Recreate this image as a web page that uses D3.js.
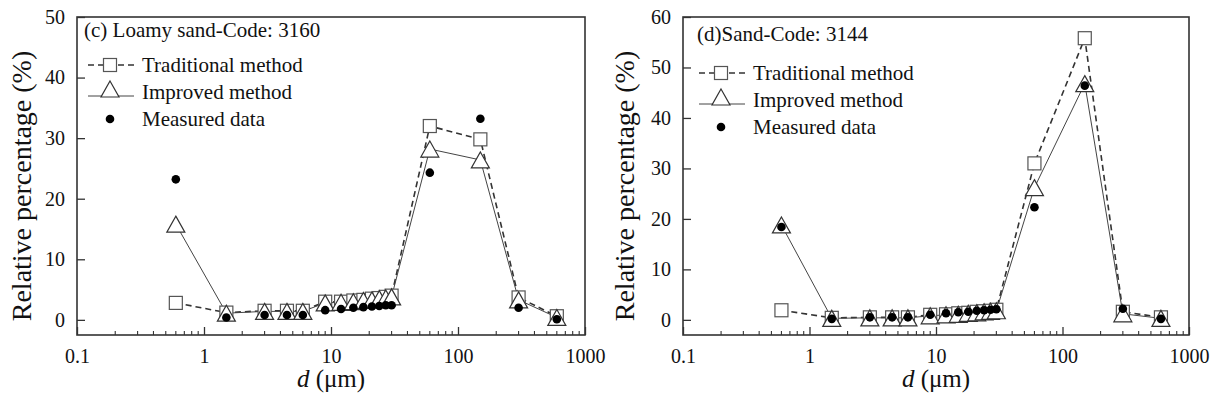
<!DOCTYPE html>
<html>
<head>
<meta charset="utf-8">
<script src="https://cdn.jsdelivr.net/npm/d3@7"></script>
<style>
  html, body { margin: 0; padding: 0; background: #fff; }
  svg { display: block; }
</style>
</head>
<body>
<svg id="chart" width="1218" height="407"></svg>
<script>
// ---- data ----
const diameters = [0.6, 1.5, 3, 4.5, 6, 9, 12, 15, 18, 21, 24, 27, 30, 60, 150, 300, 600];

const tradC = [2.8, 1.2, 1.5, 1.5, 1.5, 3.0, 3.0, 3.2, 3.3, 3.5, 3.6, 3.8, 4.0, 32.0, 29.8, 3.7, 0.6];
const imprC = [15.8, 1.1, 1.4, 1.4, 1.4, 2.8, 2.9, 3.0, 3.2, 3.3, 3.5, 3.6, 3.8, 28.2, 26.4, 3.3, 0.4];
const measC = [23.2, 0.4, 0.8, 0.8, 0.8, 1.6, 1.8, 2.0, 2.1, 2.2, 2.3, 2.4, 2.4, 24.3, 33.2, 2.0, 0.1];

const tradD = [1.9, 0.4, 0.5, 0.5, 0.5, 1.0, 1.1, 1.3, 1.4, 1.6, 1.7, 1.8, 2.0, 31.0, 55.8, 1.6, 0.5];
const imprD = [18.8, 0.3, 0.4, 0.4, 0.4, 0.8, 1.0, 1.1, 1.3, 1.4, 1.6, 1.7, 1.8, 26.2, 46.8, 1.2, 0.3];
const measD = [18.4, 0.2, 0.5, 0.5, 0.5, 1.0, 1.3, 1.5, 1.6, 1.8, 1.9, 2.0, 2.1, 22.3, 46.4, 2.2, 0.2];

const xTickValues = [0.1, 1, 10, 100, 1000];
const xTickLabels = ["0.1", "1", "10", "100", "1000"];
const yTicksC = [0, 10, 20, 30, 40, 50];
const yTicksD = [0, 10, 20, 30, 40, 50, 60];

const legendLabels = ["Traditional method", "Improved method", "Measured data"];
const panelTitles = ["(c) Loamy sand-Code: 3160", "(d)Sand-Code: 3144"];
const yTitle = "Relative percentage (%)";

// ---- drawing ----
const FONT = '"Liberation Serif", "Times New Roman", serif';
const svg = d3.select("#chart");
const axisColor = "#333";

function setFont(sel, size) {
  return sel.style("font-family", FONT).style("font-size", size + "px").style("fill", "#111");
}

function drawPanel(cfg) {
  const g = svg.append("g");
  const x = d3.scaleLog().domain([0.1, 1000]).range([cfg.left, cfg.right]);
  const y = d3.scaleLinear().domain(cfg.yDomain).range([cfg.bottom, cfg.top]);

  const minor = [];
  for (let e = -1; e < 3; e++) for (let k = 2; k <= 9; k++) minor.push(k * Math.pow(10, e));

  const xAxis = d3.axisBottom(x).tickValues(xTickValues)
    .tickFormat((d, i) => xTickLabels[i]).tickSizeInner(-8).tickSizeOuter(0).tickPadding(14);
  const gx = g.append("g").attr("transform", `translate(0,${cfg.bottom})`).call(xAxis);
  gx.select(".domain").remove();
  gx.selectAll("line").attr("stroke", axisColor).attr("stroke-width", 1.3);
  setFont(gx.selectAll("text"), 20);

  g.append("g").selectAll("line").data(minor).join("line")
    .attr("x1", d => x(d)).attr("x2", d => x(d))
    .attr("y1", cfg.bottom).attr("y2", cfg.bottom - 4)
    .attr("stroke", axisColor).attr("stroke-width", 1.1);

  const yAxis = d3.axisLeft(y).tickValues(cfg.yTicks).tickFormat(d3.format("d"))
    .tickSizeInner(-8).tickSizeOuter(0).tickPadding(12);
  const gy = g.append("g").attr("transform", `translate(${cfg.left},0)`).call(yAxis);
  gy.select(".domain").remove();
  gy.selectAll("line").attr("stroke", axisColor).attr("stroke-width", 1.3);
  setFont(gy.selectAll("text"), 20);

  g.append("rect").attr("x", cfg.left).attr("y", cfg.top)
    .attr("width", cfg.right - cfg.left).attr("height", cfg.bottom - cfg.top)
    .attr("fill", "none").attr("stroke", axisColor).attr("stroke-width", 1.6);

  const pts = arr => arr.map((v, i) => [diameters[i], v]);
  const line = d3.line().x(d => x(d[0])).y(d => y(d[1]));

  g.append("path").attr("d", line(pts(cfg.trad))).attr("fill", "none")
    .attr("stroke", "#333").attr("stroke-width", 1.6).attr("stroke-dasharray", "6,4");
  g.append("path").attr("d", line(pts(cfg.impr))).attr("fill", "none")
    .attr("stroke", "#444").attr("stroke-width", 1);

  const sq = 13;
  g.append("g").selectAll("rect").data(pts(cfg.trad)).join("rect")
    .attr("x", d => x(d[0]) - sq / 2).attr("y", d => y(d[1]) - sq / 2)
    .attr("width", sq).attr("height", sq)
    .attr("fill", "#fff").attr("stroke", "#555").attr("stroke-width", 1.2);

  const tri = (cx, cy) => {
    const w = 18, h = 16;
    return `M${cx},${cy - h / 2}L${cx + w / 2},${cy + h / 2}L${cx - w / 2},${cy + h / 2}Z`;
  };
  g.append("g").selectAll("path").data(pts(cfg.impr)).join("path")
    .attr("d", d => tri(x(d[0]), y(d[1])))
    .attr("fill", "#fff").attr("stroke", "#333").attr("stroke-width", 1.2);

  g.append("g").selectAll("circle").data(pts(cfg.meas)).join("circle")
    .attr("cx", d => x(d[0])).attr("cy", d => y(d[1])).attr("r", 4.3)
    .attr("fill", "#000");

  setFont(g.append("text").attr("x", cfg.titleX).attr("y", cfg.titleY), 21).text(cfg.title);

  const lx = cfg.legX, ly = cfg.legY, dy = 27;
  const sx = lx + 22;
  g.append("line").attr("x1", lx).attr("x2", lx + 46).attr("y1", ly - 7).attr("y2", ly - 7)
    .attr("stroke", "#333").attr("stroke-width", 1.6).attr("stroke-dasharray", "6,4");
  g.append("rect").attr("x", sx - sq / 2).attr("y", ly - 7 - sq / 2).attr("width", sq).attr("height", sq)
    .attr("fill", "#fff").attr("stroke", "#555").attr("stroke-width", 1.2);
  g.append("line").attr("x1", lx).attr("x2", lx + 46).attr("y1", ly + dy - 3).attr("y2", ly + dy - 3)
    .attr("stroke", "#444").attr("stroke-width", 1);
  g.append("path").attr("d", tri(sx, ly + dy - 10))
    .attr("fill", "#fff").attr("stroke", "#333").attr("stroke-width", 1.2);
  g.append("circle").attr("cx", sx).attr("cy", ly + 2 * dy - 7).attr("r", 4.3).attr("fill", "#000");
  legendLabels.forEach((t, i) => {
    setFont(g.append("text").attr("x", lx + 54).attr("y", ly + i * dy), 21).text(t);
  });

  setFont(g.append("text")
    .attr("transform", `translate(${cfg.yTitleX},${(cfg.top + cfg.bottom) / 2 + 10}) rotate(-90)`)
    .attr("text-anchor", "middle"), 28).text(yTitle);
  const xt = setFont(g.append("text").attr("x", (cfg.left + cfg.right) / 2).attr("y", 387)
    .attr("text-anchor", "middle"), 25);
  xt.append("tspan").style("font-style", "italic").text("d");
  xt.append("tspan").text(" (μm)");
}

drawPanel({
  left: 77, right: 585, top: 17, bottom: 335, yDomain: [-2.5, 50], yTicks: yTicksC,
  trad: tradC, impr: imprC, meas: measC,
  title: panelTitles[0], titleX: 84, titleY: 37,
  legX: 88, legY: 72, yTitleX: 31
});
drawPanel({
  left: 683, right: 1189, top: 17, bottom: 335, yDomain: [-3, 60], yTicks: yTicksD,
  trad: tradD, impr: imprD, meas: measD,
  title: panelTitles[1], titleX: 697, titleY: 41,
  legX: 699, legY: 80, yTitleX: 634
});
</script>
</body>
</html>
